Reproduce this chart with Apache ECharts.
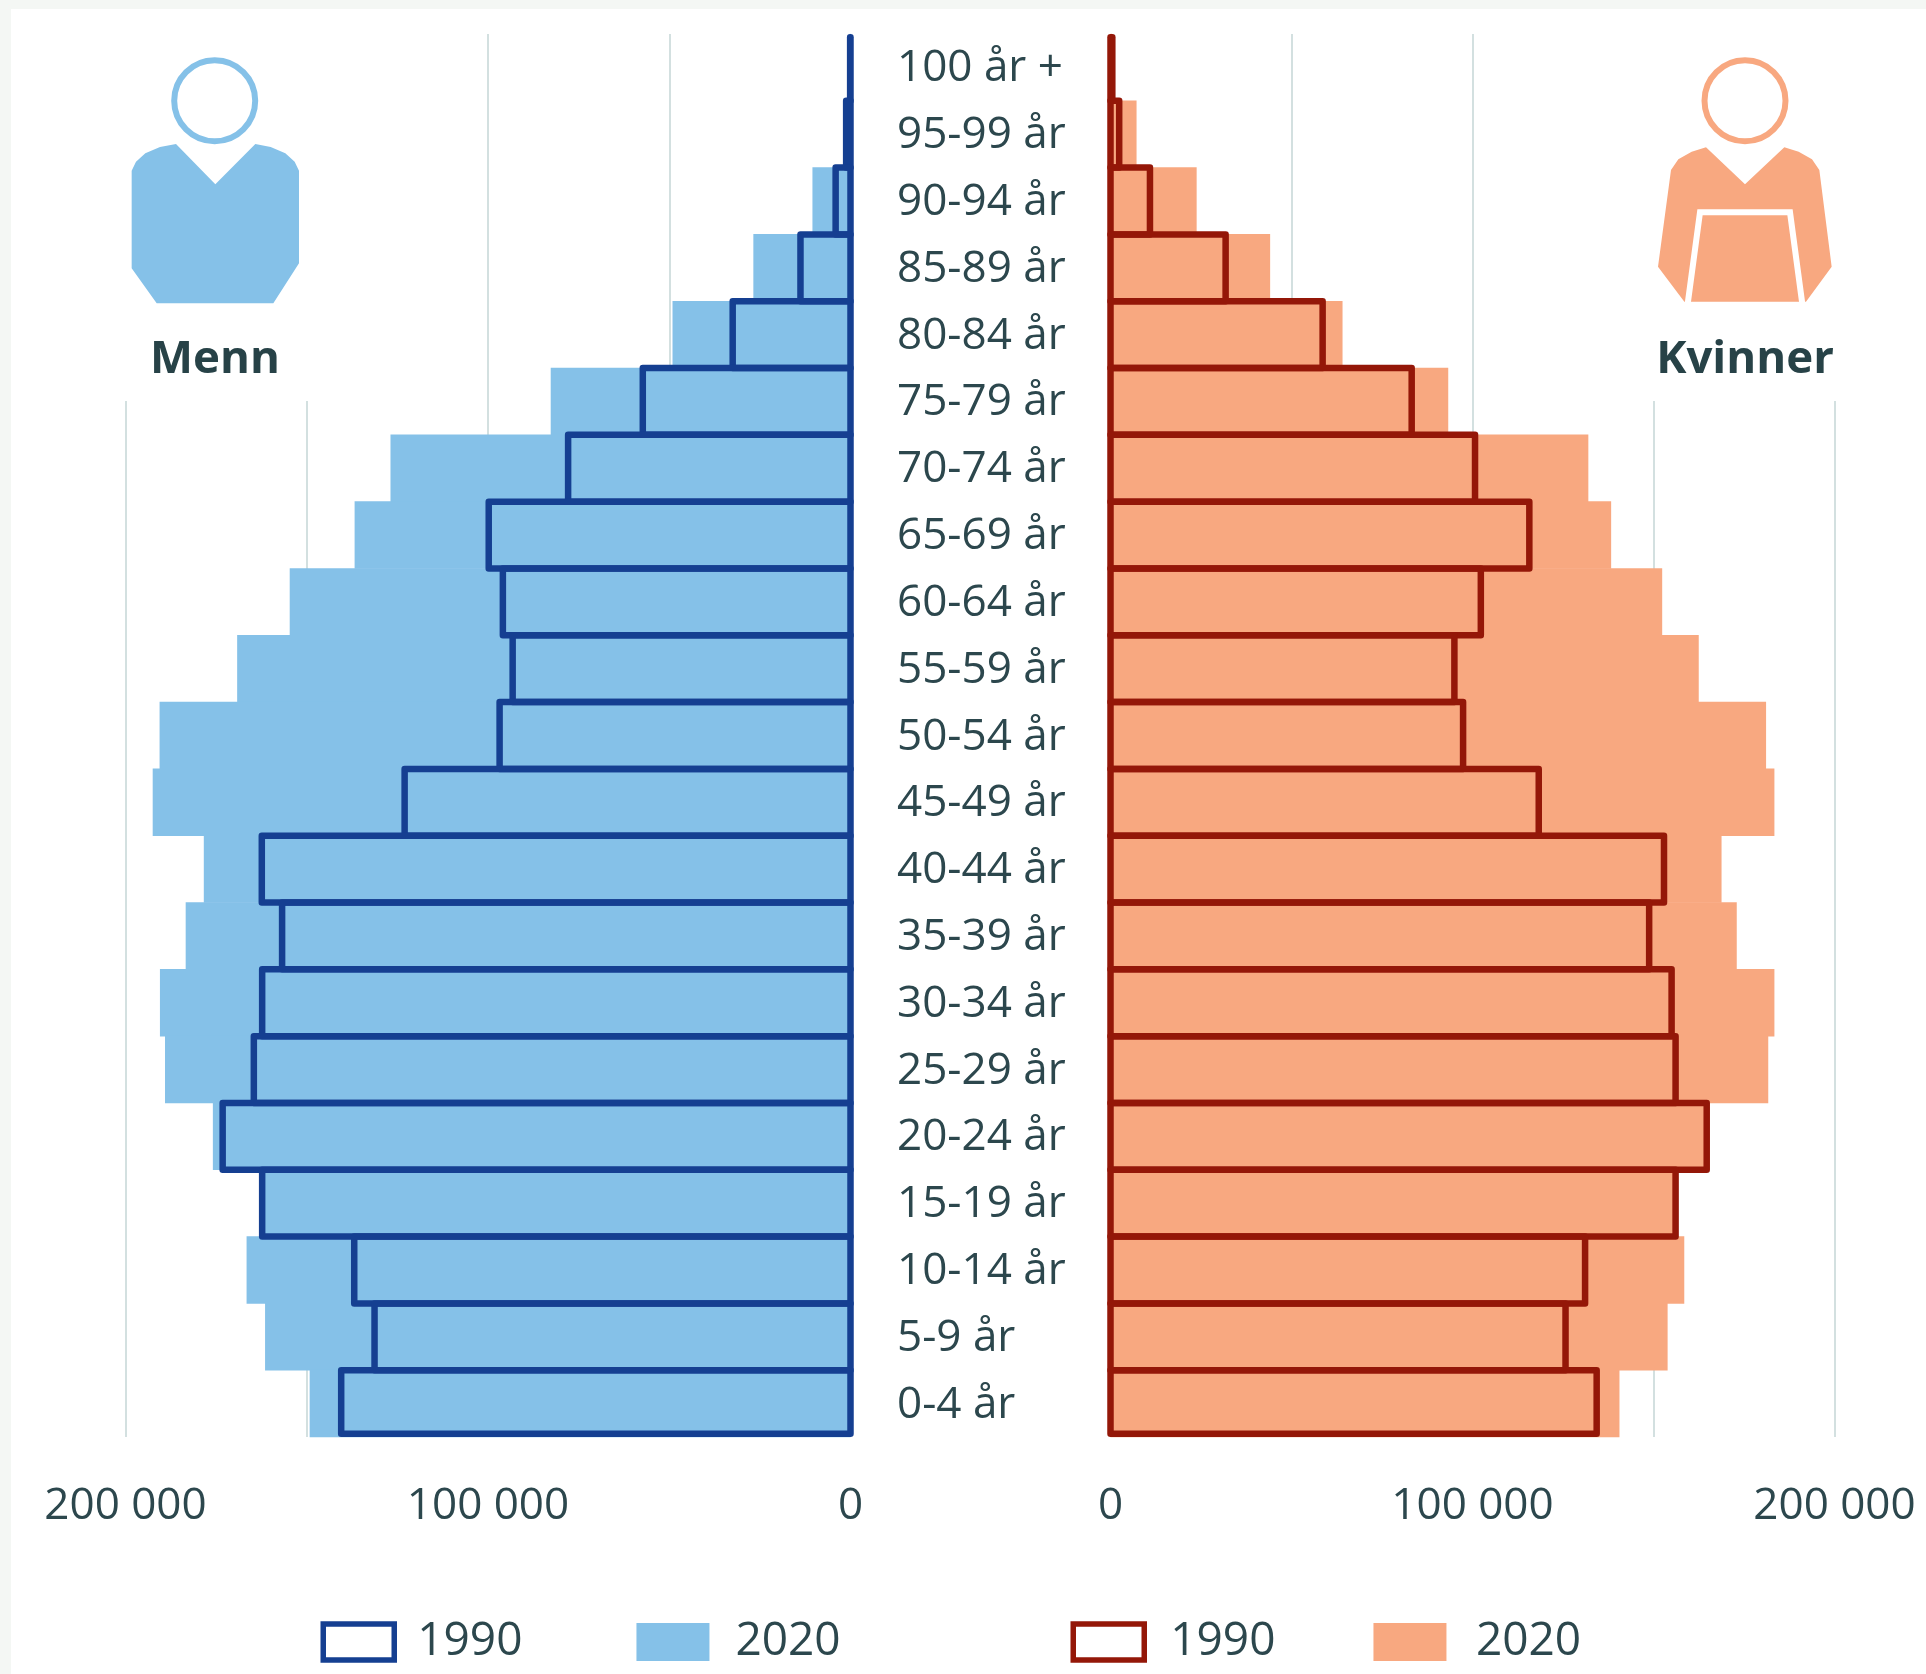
<!DOCTYPE html>
<html><head><meta charset="utf-8">
<style>
html,body{margin:0;padding:0;width:1926px;height:1674px;background:#f4f7f4;overflow:hidden}
#panel{position:absolute;left:11px;top:9px;right:0;bottom:0;background:#fff}
#chart{position:absolute;left:0;top:0;width:1926px;height:1674px}
</style>
<script src="https://cdn.jsdelivr.net/npm/echarts@6/dist/echarts.min.js"></script>
</head><body><div id="panel"></div><div id="chart"></div>
<script>
const ageGroups = ['100 år +','95-99 år','90-94 år','85-89 år','80-84 år','75-79 år','70-74 år','65-69 år','60-64 år','55-59 år','50-54 år','45-49 år','40-44 år','35-39 år','30-34 år','25-29 år','20-24 år','15-19 år','10-14 år','5-9 år','0-4 år'];
const men2020 = [200,1000,10500,26800,49100,82700,126900,136800,154700,169200,190600,192500,178400,183400,190500,189100,175900,162300,166600,161500,149200];
const men1990 = [100,1200,4100,13800,32500,57300,77900,99800,95900,93200,96800,123000,162400,156800,162300,164600,173200,162300,136900,131300,140500];
const women2020 = [400,7200,23800,44100,64100,93300,132000,138300,152400,162500,181100,183400,168800,173000,183400,181700,164700,156100,158500,153900,140600];
const women1990 = [500,2400,10900,31800,58600,83200,100700,115700,102300,95000,97400,118300,152900,148800,155000,156100,164700,156100,131100,125700,134300];
const axisMax = 200000, axisStep = 50000;
const TEXT = '#2c474d', FONT = '"Open Sans"';
const GRID = '#d3e0e0';
const C = {m90:'#153f91', m20:'#85c1e8', w90:'#941708', w20:'#f8a880'};
const STROKE = 6.5;

const fmt = v => v % 100000 ? '' : String(v).replace(/\B(?=(\d{3})+$)/g,' ');
const xAxis = (gridIndex, inverse) => ({
  type:'value', gridIndex, inverse, min:0, max:axisMax, interval:axisStep,
  axisLine:{show:false}, axisTick:{show:false},
  axisLabel:{formatter:fmt, color:TEXT, fontFamily:FONT, fontSize:44, margin:47, showMinLabel:true, showMaxLabel:true, hideOverlap:false},
  splitLine:{show:true, showMinLine:false, lineStyle:{color:GRID, width:2}}
});
const yAxis = (gridIndex, showLabel) => ({
  type:'category', gridIndex, inverse:true, data:ageGroups, position:'left',
  axisLine:{show:false}, axisTick:{show:false}, splitLine:{show:false},
  axisLabel:{show:showLabel, interval:0, align:'left', margin:213.5,
    formatter:v => '{a|' + v + '}',
    rich:{a:{color:TEXT, fontFamily:FONT, fontSize:44, padding:[3,0,0,0]}}}
});
const fill = (name, idx, data, color) => ({
  name, type:'bar', xAxisIndex:idx, yAxisIndex:idx, data, barWidth:'101%', barGap:'-100%',
  clip:false, animation:false, z:2, itemStyle:{color}
});
const outline = (name, idx, data, color) => ({
  name, type:'custom', xAxisIndex:idx, yAxisIndex:idx, animation:false, z:3, clip:false,
  data:data.map((v,i)=>[v,i]), encode:{x:0,y:1},
  itemStyle:{color},
  renderItem:(params, api) => {
    const row = api.value(1);
    const a = api.coord([0,row]), b = api.coord([api.value(0),row]);
    const h = api.size([0,1])[1];
    const top = a[1]-h/2 + (row === 0 ? STROKE/2 : 0);
    const bottom = a[1]+h/2 - (row === ageGroups.length-1 ? STROKE/2 : 0);
    return {type:'rect',
      shape:{x:Math.min(a[0],b[0]), y:top, width:Math.abs(a[0]-b[0]), height:bottom-top},
      style:{fill:'rgba(0,0,0,0)', stroke:color, lineWidth:STROKE, lineJoin:'round'}};
  }
});
const legend = (left, names, gap, c90, c20, pad1, pad2) => ({
  left, top:1619, padding:0, orient:'horizontal', selectedMode:false, itemWidth:71, itemHeight:36, itemGap:gap,
  icon:'rect',
  data:[{name:names[0], itemStyle:{color:'#fff', borderColor:c90, borderWidth:5.5}, textStyle:{padding:[0,0,0,pad1]}},
        {name:names[1], itemStyle:{color:c20, borderColor:c20, borderWidth:2}, textStyle:{padding:[0,0,0,pad2]}}],
  formatter:n => n.split(' ')[1],
  textStyle:{color:TEXT, fontFamily:FONT, fontSize:46}
});
const pts = (arr, ox) => arr.map(p => [ox + p[0]/3, p[1]/3]);
const manBody = pts([[528,432],[480,441],[436,460],[408,485],[395,512],[395,805],[470,910],[820,910],[897,790],[897,512],[884,485],[856,460],[812,441],[766,432],[646,553]],0);
const womanBody = pts([[618,442],[575,455],[535,478],[513,510],[474,800],[553,905],[918,905],[995,800],[958,510],[936,478],[896,455],[853,442],[735,553]],1500);
const head = (cx, color) => ({type:'circle', z:5, silent:true, shape:{cx, cy:100.7, r:40.5}, style:{fill:'#fff', stroke:color, lineWidth:6}});
const iconText = (text, x) => ({type:'text', z:5, silent:true, style:{text, x, y:359.5, align:'center', verticalAlign:'middle', fill:'#274247', font:'bold 45.6px "Open Sans"'}});

const chart = echarts.init(document.getElementById('chart'), null, {renderer:'canvas'});
chart.setOption({
  animation:false,
  grid:[{left:125.5, top:34, width:725, height:1403},{left:1110.5, top:34, width:724, height:1403}],
  xAxis:[xAxis(0,true), xAxis(1,false)],
  yAxis:[yAxis(0,false), yAxis(1,true)],
  legend:[legend(320.5,['Menn 1990','Menn 2020'],114,C.m90,C.m20,18,22), legend(1070.5,['Kvinner 1990','Kvinner 2020'],98,C.w90,C.w20,21,25.5)],
  series:[
    fill('Menn 2020',0,men2020,C.m20),
    outline('Menn 1990',0,men1990,C.m90),
    fill('Kvinner 2020',1,women2020,C.w20),
    outline('Kvinner 1990',1,women1990,C.w90)
  ],
  graphic:{elements:[
    {type:'rect', z:1, silent:true, shape:{x:115,y:25,width:200,height:376}, style:{fill:'#fff'}},
    {type:'rect', z:1, silent:true, shape:{x:1642,y:25,width:200,height:376}, style:{fill:'#fff'}},
    head(214.7,C.m20),
    {type:'polygon', z:5, silent:true, shape:{points:manBody}, style:{fill:C.m20}},
    iconText('Menn',215),
    head(1745,C.w20),
    {type:'polygon', z:5, silent:true, shape:{points:womanBody}, style:{fill:C.w20}},
    {type:'polyline', z:6, silent:true, shape:{points:pts([[563,912],[600,637],[870,637],[907,912]],1500)}, style:{fill:null, stroke:'#fff', lineWidth:6}},
    iconText('Kvinner',1745)
  ]}
});
</script></body></html>
